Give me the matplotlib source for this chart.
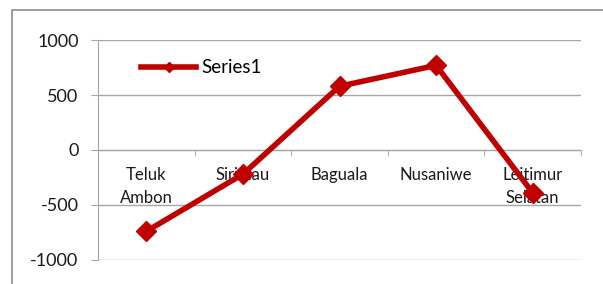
import matplotlib
matplotlib.use("Agg")
import matplotlib.pyplot as plt
from matplotlib.patches import Rectangle
import numpy as np

kecamatan = ["Teluk\nAmbon", "Sirimau", "Baguala", "Nusaniwe", "Leitimur\nSelatan"]
nilai = [-740, -220, 580, 770, -390]
y_ticks = [-1000, -500, 0, 500, 1000]

plt.rcParams['font.family'] = ['Lato', 'DejaVu Sans']
plt.rcParams['axes.unicode_minus'] = False

fig = plt.figure(figsize=(6.03, 2.84), dpi=100)
fig.patches.append(Rectangle((12 / 603, -0.1), 1.2, 1 - 10 / 284 + 0.1,
                             transform=fig.transFigure, fill=False,
                             edgecolor="#8c8c8c", linewidth=1.2))

ax = fig.add_axes([98 / 603, 1 - 260 / 284, 483 / 603, 220 / 284])
x = np.arange(len(kecamatan))
ax.plot(x, nilai, color="#C00000", linewidth=4, marker="D", markersize=10,
        label="Series1", zorder=3)

ax.set_xlim(-0.5, len(kecamatan) - 0.5)
ax.set_ylim(-1001, 1001)
ax.set_yticks(y_ticks)
ax.yaxis.grid(True, color="#a6a6a6", linewidth=1)
ax.set_axisbelow(True)

for s in ["top", "right"]:
    ax.spines[s].set_visible(False)
ax.spines["left"].set_color("#a6a6a6")
ax.spines["bottom"].set_color("#a6a6a6")
ax.spines["bottom"].set_position(("data", 0))

ax.set_xticks(x)
ax.set_xticklabels(kecamatan, fontsize=12, linespacing=1.6)
ax.set_xticks(np.arange(-0.5, len(kecamatan)), minor=True)
ax.tick_params(axis="x", which="major", length=0, pad=12, colors="#1a1a1a")
ax.tick_params(axis="x", which="minor", length=4, color="#a6a6a6", direction="out")
ax.tick_params(axis="y", length=5, color="#a6a6a6", pad=9, labelsize=13, labelcolor="#1a1a1a")

leg = ax.legend(loc="center left", bbox_to_anchor=(0.09, 0.873), frameon=False,
                fontsize=13.5, handlelength=2.9, handletextpad=0.3, borderpad=0,
                borderaxespad=0, markerscale=0.55)

fig.savefig("out.png", dpi=100)
